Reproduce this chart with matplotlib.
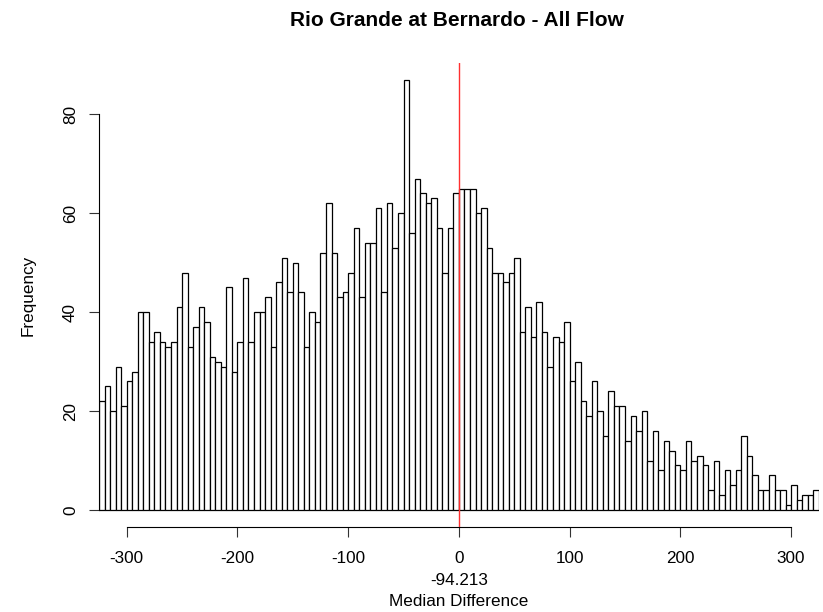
import numpy as np
import matplotlib
matplotlib.use("Agg")
import matplotlib.pyplot as plt

# Histogramm-Daten (Klassenbreite 5, von -325 bis 325)
bin_start = -325
bin_width = 5
counts = [
    22, 25, 20, 29, 21, 26, 28, 40, 40, 34,
    36, 34, 33, 34, 41, 48, 33, 37, 41, 38,
    31, 30, 29, 45, 28, 34, 47, 34, 40, 40,
    43, 33, 46, 51, 44, 50, 44, 33, 40, 38,
    52, 62, 52, 43, 44, 48, 57, 43, 54, 54,
    61, 44, 62, 53, 60, 87, 56, 67, 64, 62,
    63, 57, 48, 57, 64, 65, 65, 65, 60, 61,
    53, 48, 48, 46, 48, 51, 36, 41, 35, 42,
    36, 29, 35, 34, 38, 26, 30, 22, 19, 26,
    20, 15, 24, 21, 21, 14, 19, 16, 20, 10,
    16, 8, 14, 12, 9, 8, 14, 10, 11, 9,
    4, 10, 3, 8, 5, 8, 15, 11, 7, 4,
    4, 7, 4, 4, 1, 5, 2, 3, 3, 4,
]
x_ticks = [-300, -200, -100, 0, 100, 200, 300]
y_ticks = [0, 20, 40, 60, 80]
median_line = 0
median_text = "-94.213"

plt.rcParams['font.family'] = ['Liberation Sans', 'DejaVu Sans']

edges = bin_start + bin_width * np.arange(len(counts))

fig = plt.figure(figsize=(8.23, 6.12), dpi=100)
ax = fig.add_axes([99 / 823, 1 - 527.2 / 612, (818.8 - 99) / 823, (527.2 - 62.5) / 612])

ax.bar(edges, counts, width=bin_width, align='edge',
       facecolor='white', edgecolor='black', linewidth=0.9)
# rote Linie ueber den Balken
ax.axvline(median_line, color='#ff3030', linewidth=1.0, zorder=5)

ax.set_xlim(-325, 325)
ax.set_ylim(-0.04 * 87, 87 * 1.04)

# R-Stil Achsen
ax.spines['top'].set_visible(False)
ax.spines['right'].set_visible(False)
ax.spines['left'].set_bounds(0, 80)
ax.spines['bottom'].set_bounds(-300, 300)
ax.set_xticks(x_ticks)
ax.set_yticks(y_ticks)
ax.set_xticklabels([str(v) for v in x_ticks])
ax.set_yticklabels([str(v) for v in y_ticks], rotation=90, va='center')
ax.tick_params(axis='both', length=7.2, width=0.8, labelsize=12.3, color='#333333')
ax.tick_params(axis='x', pad=10)
ax.tick_params(axis='y', pad=8)

fig.text(456.5 / 823, 1 - 21 / 612, "Rio Grande at Bernardo - All Flow",
         ha='center', va='center', fontsize=15, fontweight='bold')
fig.text(459 / 823, 1 - 580.5 / 612, median_text, ha='center', va='center', fontsize=12.3)
fig.text(459 / 823, 1 - 601.5 / 612, "Median Difference", ha='center', va='center', fontsize=12.3)
fig.text(28 / 823, 1 - 295 / 612, "Frequency", ha='center', va='center',
         rotation=90, fontsize=12.3)

fig.savefig("out.png", dpi=100)
